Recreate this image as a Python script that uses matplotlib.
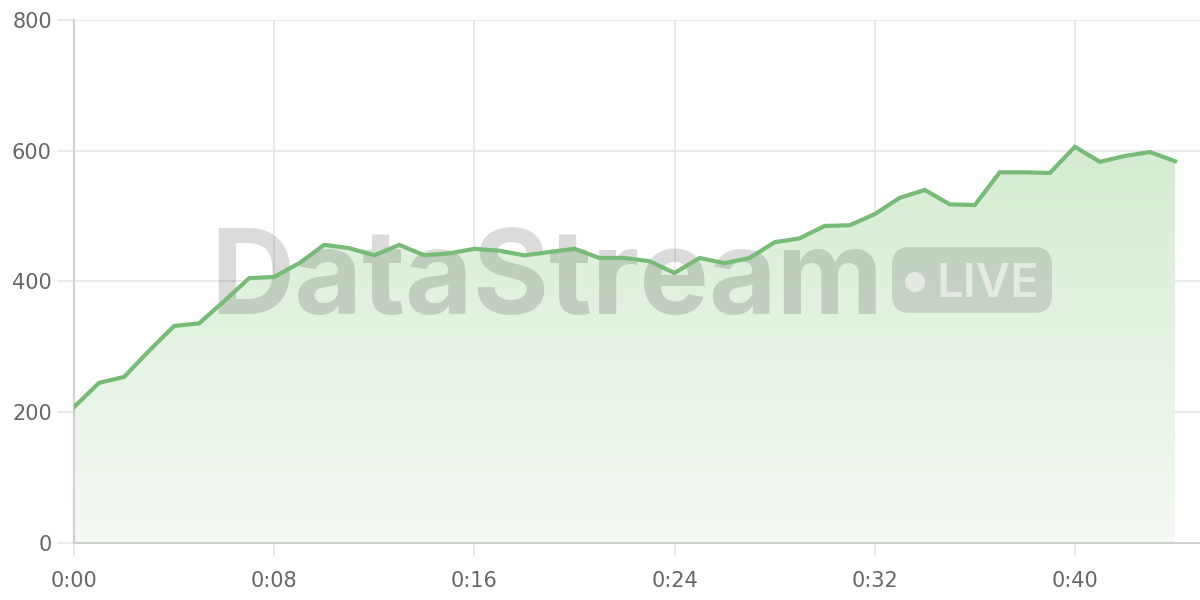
import numpy as np
import matplotlib.pyplot as plt
from matplotlib.patches import FancyBboxPatch, Circle
from matplotlib.colors import LinearSegmentedColormap
from matplotlib.transforms import Affine2D

# minutes elapsed and the measured value
minutes = list(range(45))
values = [208, 245, 254, 294, 332, 336, 370, 405, 407, 428,
          456, 451, 440, 456, 440, 443, 450, 447, 440, 445,
          450, 436, 436, 431, 413, 436, 428, 436, 460, 466,
          485, 486, 503, 528, 540, 518, 517, 567, 567, 566,
          606, 583, 592, 598, 584]
x_ticks = [0, 8, 16, 24, 32, 40]
x_labels = ['0:00', '0:08', '0:16', '0:24', '0:32', '0:40']
y_ticks = [0, 200, 400, 600, 800]

plt.rcParams['font.family'] = ['DejaVu Sans']

fig = plt.figure(figsize=(12, 6), dpi=100)
ax = fig.add_axes([0.0617, 0.095, 0.9383, 0.8717])
ax.set_xlim(0, 45)
ax.set_ylim(0, 800)

# gradient fill under the line
top = max(values)
cmap = LinearSegmentedColormap.from_list('g', ['#f5faf4', '#d6ebd3'])
grad = np.linspace(0, 1, 256).reshape(-1, 1)
im = ax.imshow(grad, extent=(0, 44, 0, top), origin='lower', aspect='auto',
               cmap=cmap, zorder=1)
poly = ax.fill_between(minutes, values, 0, color='none')
im.set_clip_path(poly.get_paths()[0], transform=ax.transData)

ax.plot(minutes, values, color='#76bb76', lw=3, zorder=4, solid_joinstyle='miter')

# grid
ax.set_xticks(x_ticks)
ax.set_xticklabels(x_labels)
ax.set_yticks(y_ticks)
ax.grid(True, color='#e6e6e6', lw=1.2, zorder=0)
ax.set_axisbelow(True)
for s in ['top', 'right']:
    ax.spines[s].set_visible(False)
for s in ['left', 'bottom']:
    ax.spines[s].set_color('#d0d0d0')
    ax.spines[s].set_linewidth(1.5)
ax.tick_params(axis='both', colors='#e6e6e6', labelcolor='#666666',
               labelsize=15, width=1.2)
ax.tick_params(axis='x', length=9, pad=11)
ax.tick_params(axis='y', length=12, pad=4)

# watermark, placed in pixel coordinates (origin top-left)
px = Affine2D().scale(1 / 1200, -1 / 600).translate(0, 1) + fig.transFigure
ax.text(210, 314, 'DataStream', fontsize=84, fontweight='bold', family='Inter',
        color='black', alpha=0.14, ha='left', va='baseline', zorder=2,
        transform=px, clip_on=False)
pill = FancyBboxPatch((892, 247), 160, 66,
                      boxstyle='round,pad=0,rounding_size=18',
                      transform=px, facecolor='black', alpha=0.12,
                      edgecolor='none', zorder=2, clip_on=False)
ax.add_patch(pill)
dot = Circle((915, 282), 10, transform=px, facecolor='white', alpha=0.55,
             edgecolor='none', zorder=3, clip_on=False)
ax.add_patch(dot)
ax.text(937, 297, 'LIVE', fontsize=34, fontweight='semibold', family='Inter',
        color='white', alpha=0.55, ha='left', va='baseline', zorder=3,
        transform=px, clip_on=False)

fig.savefig('out.png', dpi=100)
